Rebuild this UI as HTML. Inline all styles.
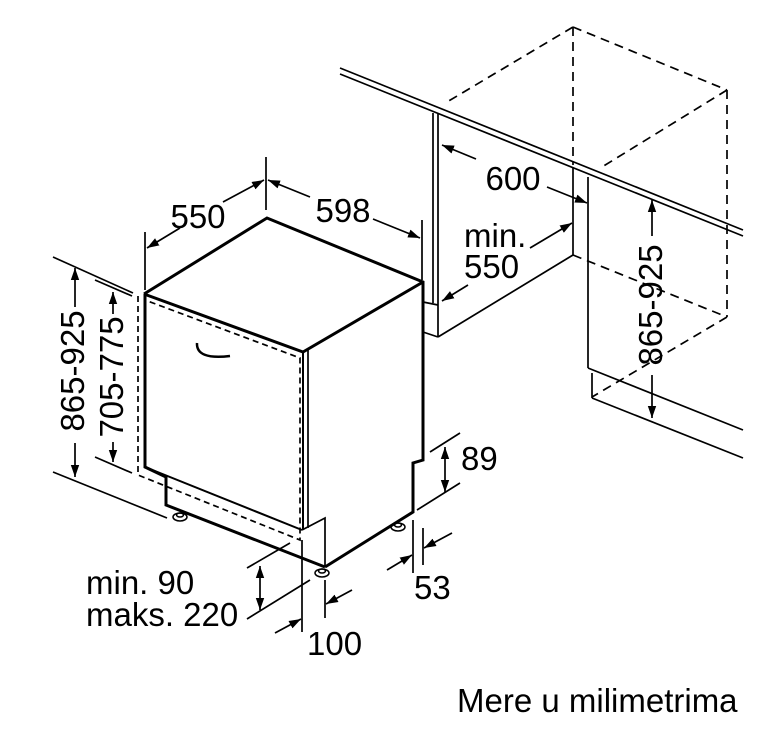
<!DOCTYPE html>
<html><head><meta charset="utf-8"><style>
html,body{margin:0;padding:0;background:#fff}
svg{display:block}
text{font-family:"Liberation Sans",Arial,sans-serif;font-size:33px;fill:#000}
</style></head><body>
<svg width="775" height="738" viewBox="0 0 775 738" xmlns="http://www.w3.org/2000/svg">
<defs>
<marker id="a" viewBox="0 0 10 10" refX="10" refY="5" markerWidth="12" markerHeight="12" markerUnits="userSpaceOnUse" orient="auto-start-reverse">
<path d="M0,1.5 L10,5 L0,8.5 z" fill="#000"/></marker>
</defs>
<g fill="none" stroke="#000" stroke-width="1.7">
<line x1="340" y1="68" x2="743" y2="230"/>
<line x1="340" y1="74" x2="743" y2="236"/>
<line x1="433" y1="113" x2="433" y2="303"/>
<line x1="438" y1="113" x2="438" y2="337"/>
<line x1="423" y1="302" x2="438" y2="305"/>
<line x1="423" y1="332" x2="438" y2="337"/>
<line x1="438" y1="337" x2="573" y2="255"/>
<line x1="573" y1="168" x2="573" y2="255"/>
<line x1="588" y1="177" x2="588" y2="368"/>
<line x1="588" y1="368" x2="743" y2="430"/>
<line x1="592" y1="373" x2="592" y2="398"/>
<line x1="592" y1="398" x2="743" y2="458"/>
<g stroke-dasharray="9,6">
<line x1="573" y1="27" x2="727" y2="90"/>
<line x1="573" y1="27" x2="447" y2="102"/>
<line x1="573" y1="27" x2="573" y2="165"/>
<line x1="727" y1="90" x2="727" y2="317"/>
<line x1="727" y1="90" x2="602" y2="167"/>
<line x1="573" y1="255" x2="727" y2="317"/>
<line x1="727" y1="317" x2="592" y2="397"/>
</g>
<g stroke-width="3" stroke-linejoin="miter">
<polyline points="144,294 267,218 423,282 423,460 413,463 413,512 325,567"/>
<polyline points="144,294 303,352 423,282"/>
<polyline points="145,294 145,467 166,477 166,505 325,567"/>
</g>
<line x1="145" y1="467" x2="302" y2="530" stroke-width="2"/>
<line x1="303" y1="352" x2="303" y2="530" stroke-width="2"/>
<line x1="308" y1="350" x2="308" y2="528"/>
<polyline points="302,530 325,518 325,567"/>
<g stroke-dasharray="6,4">
<polyline points="138,296 138,475 300,540 300,358 145,300"/>
</g>
<path d="M197,343 Q196,360 230,356" stroke-width="2.5"/>
<g stroke-width="1.5">
<ellipse cx="180" cy="517" rx="7" ry="4"/><ellipse cx="180" cy="515" rx="3.5" ry="2"/>
<ellipse cx="322" cy="573" rx="7" ry="4"/><ellipse cx="322" cy="571" rx="3.5" ry="2"/>
<ellipse cx="398" cy="527" rx="7" ry="4"/><ellipse cx="398" cy="525" rx="3.5" ry="2"/>
</g>
<line x1="145" y1="232" x2="145" y2="290"/>
<line x1="266" y1="157" x2="266" y2="210"/>
<line x1="422" y1="220" x2="422" y2="280"/>
<line x1="180" y1="228" x2="147" y2="248" marker-end="url(#a)"/>
<line x1="223" y1="202" x2="264" y2="180" marker-end="url(#a)"/>
<line x1="310" y1="197" x2="268" y2="180" marker-end="url(#a)"/>
<line x1="373" y1="219" x2="420" y2="238" marker-end="url(#a)"/>
<line x1="53" y1="257" x2="133" y2="293"/>
<line x1="53" y1="472" x2="167" y2="518"/>
<line x1="95" y1="280" x2="132" y2="296"/>
<line x1="95" y1="457" x2="132" y2="473"/>
<line x1="75" y1="307" x2="75" y2="268" marker-end="url(#a)"/>
<line x1="75" y1="443" x2="75" y2="477" marker-end="url(#a)"/>
<line x1="113" y1="314" x2="113" y2="292" marker-end="url(#a)"/>
<line x1="113" y1="442" x2="113" y2="462" marker-end="url(#a)"/>
<line x1="476" y1="159" x2="442" y2="145" marker-end="url(#a)"/>
<line x1="547" y1="187" x2="587" y2="203" marker-end="url(#a)"/>
<line x1="530" y1="248" x2="572" y2="223" marker-end="url(#a)"/>
<line x1="468" y1="285" x2="442" y2="301" marker-end="url(#a)"/>
<line x1="652" y1="236" x2="652" y2="200" marker-end="url(#a)"/>
<line x1="652" y1="375" x2="652" y2="418" marker-end="url(#a)"/>
<line x1="430" y1="452" x2="460" y2="433"/>
<line x1="417" y1="510" x2="460" y2="483"/>
<line x1="445" y1="470" x2="445" y2="447" marker-end="url(#a)"/>
<line x1="445" y1="470" x2="445" y2="492" marker-end="url(#a)"/>
<line x1="413" y1="520" x2="413" y2="573"/>
<line x1="423" y1="528" x2="423" y2="565"/>
<line x1="387" y1="570" x2="412" y2="555" marker-end="url(#a)"/>
<line x1="452" y1="533" x2="424" y2="548" marker-end="url(#a)"/>
<line x1="302" y1="540" x2="302" y2="632"/>
<line x1="325" y1="580" x2="325" y2="618"/>
<line x1="275" y1="633" x2="301" y2="619" marker-end="url(#a)"/>
<line x1="352" y1="590" x2="326" y2="604" marker-end="url(#a)"/>
<line x1="247" y1="568" x2="290" y2="543"/>
<line x1="247" y1="619" x2="310" y2="580"/>
<line x1="260" y1="588" x2="260" y2="566" marker-end="url(#a)"/>
<line x1="260" y1="588" x2="260" y2="610" marker-end="url(#a)"/>
</g>
<text x="198" y="228" text-anchor="middle">550</text>
<text x="343" y="222" text-anchor="middle">598</text>
<text x="513" y="190" text-anchor="middle">600</text>
<text x="464" y="247">min.</text>
<text x="464" y="278">550</text>
<text x="461" y="470">89</text>
<text x="414" y="599">53</text>
<text x="307" y="655">100</text>
<text x="86" y="594">min. 90</text>
<text x="86" y="626">maks. 220</text>
<text transform="translate(84,371) rotate(-90)" text-anchor="middle">865-925</text>
<text transform="translate(123,377) rotate(-90)" text-anchor="middle">705-775</text>
<text transform="translate(662,305) rotate(-90)" text-anchor="middle">865-925</text>
<text x="457" y="712">Mere u milimetrima</text>
</svg>
</body></html>
